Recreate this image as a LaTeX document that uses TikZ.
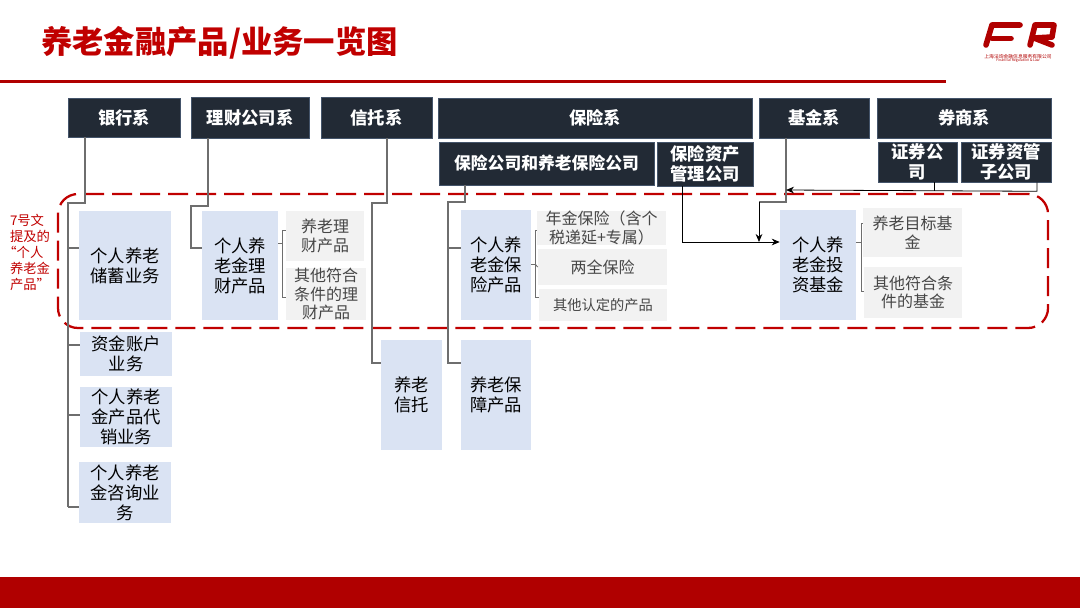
\documentclass[tikz,border=0pt]{standalone}
\usepackage{fontspec}
\setmainfont{Noto Sans CJK SC}
\usepackage{xcolor}
\usetikzlibrary{arrows.meta, calc}
\definecolor{Rojo}     {RGB}{192, 0,  0}
\definecolor{RojoBand} {RGB}{176, 0,  0}
\definecolor{Oscuro}   {RGB}{34,  42, 53}
\definecolor{Borde}    {RGB}{68,  84, 106}
\definecolor{Azul}     {RGB}{218,227,243}
\definecolor{Gris}     {RGB}{242,242,242}
\definecolor{GrisLinea}{RGB}{110,110,110}
\definecolor{GrisTexto}{RGB}{70,  70, 70}
\begin{document}
\begin{tikzpicture}[
      x=0.75pt,y=-0.75pt,
      sz/.style 2 args={minimum width=#1*0.75pt,minimum height=#2*0.75pt},
      head/.style ={draw=Borde,fill=Oscuro,text=white,inner sep=0pt,align=center,
                    font=\fontsize{13}{15}\selectfont\bfseries},
      prod/.style ={fill=Azul,text=black,inner sep=0pt,align=center,
                    font=\fontsize{13}{15}\selectfont},
      sub/.style  ={fill=Gris,text=GrisTexto,inner sep=0pt,align=center,
                    font=\fontsize{12}{14}\selectfont},
      fl/.style   ={GrisLinea,line width=0.9pt},
      ar/.style   ={-{Stealth[length=6pt,width=5pt]},black,line width=0.6pt},
      logo/.style ={draw=RojoBand,line width=4.2pt,line cap=round,line join=round}]
      \useasboundingbox (0,0) rectangle (1080,608);
      % page furniture
      \fill[RojoBand] (0,577) rectangle (1080,608);
      \fill[RojoBand] (0,80) rectangle (946,83);
      \node[anchor=west,inner sep=0pt,text=Rojo,font=\fontsize{23.5}{28}\selectfont\bfseries]
        (title) at (41,43) {养老金融产品/业务一览图};
      % logo
      \draw[logo] (1020,25)--(992,25)--(986,45);
      \draw[logo] (992,38.5)--(1011,38.5);
      \draw[logo] (1030,45)--(1035,25)--(1054,25)--(1052,37)--(1034,38)--(1052,45);
      \node[inner sep=0pt,text=RojoBand,font=\fontsize{3.6}{4}\selectfont] (logoa) at (1018,56.5) {上海法询金融信息服务有限公司};
      \node[inner sep=0pt,text=RojoBand,font=\fontsize{2.6}{3}\selectfont] (logob) at (1018,60.5) {Financial Regulation \& Law};
      % side note and frame
      \node[inner sep=0pt,align=left,text=Rojo,font=\fontsize{10}{12}\selectfont]
        (note) at (30,252) {7号文\\提及的\\\hspace*{-5pt}“个人\\养老金\\产品”};
      \node[sz={990}{134},draw=Rojo,line width=1.7pt,rounded corners=15pt,
            dash pattern=on 15pt off 6pt] (frame) at (553,261) {};
      % group headers
      \node[head,sz={112}{39}] (bank)   at (124,117.5){银行系};
      \node[head,sz={118}{41}] (wealth) at (250,117.5){理财公司系};
      \node[head,sz={111}{41}] (trust)  at (376.5,117.5){信托系};
      \node[head,sz={314}{40}] (insure) at (595,118){保险系};
      \node[head,sz={215}{43},font=\fontsize{12.6}{15}\selectfont\bfseries]
        (insco) at (546.5,163.5){保险公司和养老保险公司};
      \node[head,sz={96}{44}]  (insam)  at (705,164){保险资产\\管理公司};
      \node[head,sz={110}{40}] (fund)   at (814,118){基金系};
      \node[head,sz={174}{40}] (broker) at (964,118){券商系};
      \node[head,sz={79}{40}]  (secco)  at (917.5,162){证券公\\司};
      \node[head,sz={90}{40}]  (secam)  at (1006,162){证券资管\\子公司};
      % products
      \node[prod,sz={92}{109}] (savings) at (125,265.5){个人养老\\储蓄业务};
      \node[prod,sz={92}{44}]  (account) at (126,354){资金账户\\业务};
      \node[prod,sz={92}{60}]  (sales)   at (126,417){个人养老\\金产品代\\销业务};
      \node[prod,sz={92}{61}]  (advice)  at (125,492.5){个人养老\\金咨询业\\务};
      \node[prod,sz={76}{109}] (wplan)   at (240,265.5){个人养\\老金理\\财产品};
      \node[prod,sz={61}{110}] (tplan)   at (411.5,395){养老\\信托};
      \node[prod,sz={70}{110}] (iplan)   at (496,265){个人养\\老金保\\险产品};
      \node[prod,sz={70}{110}] (iguard)  at (496,395){养老保\\障产品};
      \node[prod,sz={76}{110}] (fplan)   at (818,265){个人养\\老金投\\资基金};
      \node[sub,sz={78}{50}]   (wsubA)   at (325,236){养老理\\财产品};
      \node[sub,sz={80}{48}]   (wsubB)   at (326,294){其他符合\\条件的理\\财产品};
      \node[sub,sz={129}{34}]  (isubA)   at (601.5,228){年金保险（含个\\税递延+专属）};
      \node[sub,sz={129}{36}]  (isubB)   at (602.5,267){两全保险};
      \node[sub,sz={128}{32},font=\fontsize{10.7}{13}\selectfont] (isubC) at (603,305){其他认定的产品};
      \node[sub,sz={99}{49}]   (fsubA)   at (912.5,232.5){养老目标基\\金};
      \node[sub,sz={98}{51}]   (fsubB)   at (913,292.5){其他符合条\\件的基金};
      % junctions
      \coordinate (bankOut)   at (85,137);
      \coordinate (bankTurn)  at (68,203);
      \coordinate (wealthOut) at (208,138);
      \coordinate (wealthTurn)at (191,206);
      \coordinate (trustOut)  at (387,138);
      \coordinate (trustTurn) at (372,203);
      \coordinate (inscoOut)  at (465,185);
      \coordinate (inscoTurn) at (448,202);
      \coordinate (fundOut)   at (786,138);
      \coordinate (fundTurn)  at (759,202);
      \coordinate (wealthJ)   at (282,243);
      \coordinate (insJ)      at (535,264);
      \coordinate (fundJ)     at (861,242);
      \coordinate (brokerIn)  at (786,190);
      % grey connectors
      \draw[fl] (bankOut)|-(bankTurn)--(bankTurn|-0,507);
      \foreach \b/\y in {savings/248,account/345,sales/415,advice/507}
        \draw[fl] (bankTurn|-0,\y)--(\b.west|-0,\y);
      \draw[fl] (wealthOut)|-(wealthTurn)|-(wplan.west|-0,248);
      \draw[fl] (trustOut)|-(trustTurn)|-(tplan.west|-0,363);
      \draw[fl] (inscoOut)|-(inscoTurn)|-(iguard.west|-0,363);
      \draw[fl] (inscoTurn|-0,248)--(iplan.west|-0,248);
      % brackets
      \foreach \p/\j/\a/\c/\t/\u in {wplan/wealthJ/wsubA/wsubB/230/297,
                                     iplan/insJ/isubA/isubC/230/297,
                                     fplan/fundJ/fsubA/fsubB/223/291}{
        \draw[fl,line width=0.7pt] (\p.east|-\j)--(\j);
        \draw[fl,line width=0.7pt] (\a.west|-0,\t)--(\j|-0,\t)--(\j|-0,\u)--(\c.west|-0,\u);
      }
      \draw[fl,line width=0.7pt] (insJ)--(isubB.west);
      % arrows
      \draw[fl] (fundOut)|-(fundTurn);
      \draw[ar] (fundTurn)--(fundTurn|-0,242);
      \draw[ar] (insam.south-|682,0)|-(fplan.west|-0,242);
      \draw[ar] (secam.south-|1037,0)--++(0,9)--(brokerIn);
      \draw[black,line width=0.6pt] (secco.south-|934,0)--++(0,9);
    \end{tikzpicture}
\end{document}
